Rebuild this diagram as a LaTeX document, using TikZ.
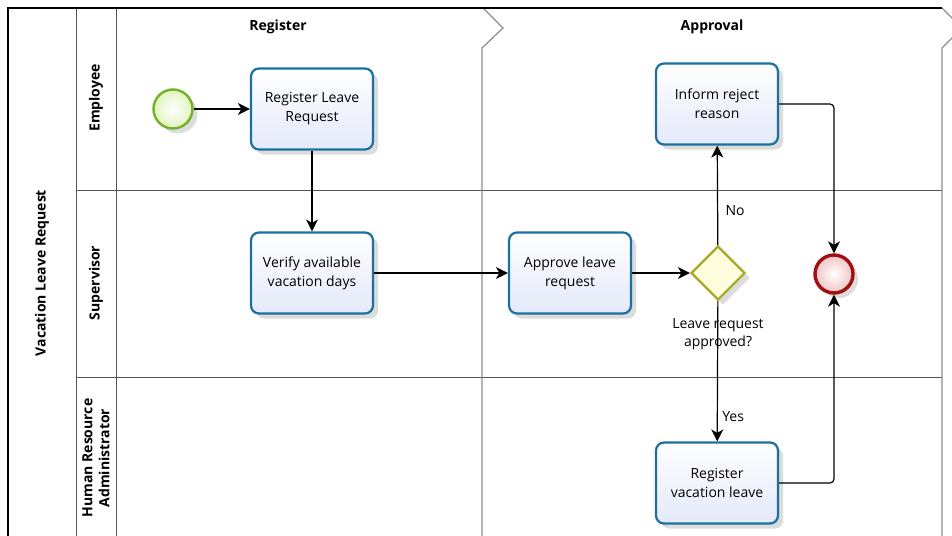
\documentclass[tikz,border=0pt]{standalone}
\usepackage{fontspec}
\setmainfont{Open Sans}
\usetikzlibrary{arrows.meta, shapes.geometric, shadows, positioning}

\definecolor{taskline}{RGB}{28,112,158}
\definecolor{taskfill}{RGB}{228,233,250}
\definecolor{startline}{RGB}{112,178,40}
\definecolor{startfill}{RGB}{226,244,190}
\definecolor{gateline}{RGB}{168,168,40}
\definecolor{gatefill}{RGB}{253,253,222}
\definecolor{endline}{RGB}{160,16,16}
\definecolor{endfill}{RGB}{240,196,196}
\definecolor{laneline}{RGB}{85,85,85}
\definecolor{phaseline}{RGB}{140,140,140}

\tikzset{
  softshadow/.style = {drop shadow = {opacity = 0.28, shadow xshift = 5pt, shadow yshift = -5pt}},
  task/.style = {draw = taskline, line width = 2.2pt, top color = white, bottom color = taskfill,
    rounded corners = 8pt, minimum width = 122pt, minimum height = 81pt, align = center,
    font = \fontsize{14}{19}\selectfont, softshadow},
  startev/.style = {circle, draw = startline, line width = 2.4pt, inner color = white,
    outer color = startfill, minimum size = 39pt, inner sep = 0pt, softshadow},
  endev/.style = {circle, draw = endline, line width = 3.4pt, inner color = white,
    outer color = endfill, minimum size = 38pt, inner sep = 0pt, softshadow},
  gateway/.style = {diamond, draw = gateline, line width = 2.2pt, fill = gatefill,
    minimum width = 54pt, minimum height = 54pt, inner sep = 0pt, softshadow},
  flow/.style = {draw = black, line width = 1.2pt, -{Stealth[length = 12pt, width = 12pt, inset = 3.5pt]}},
  lanelabel/.style = {rotate = 90, align = center, font = \fontsize{14}{17}\selectfont\bfseries},
  phaselabel/.style = {font = \fontsize{14}{17}\selectfont\bfseries},
  flowlabel/.style = {font = \fontsize{14}{18}\selectfont, align = center}
}

\begin{document}
\begin{tikzpicture}[x = 1pt, y = -1pt]
\useasboundingbox (0, 0) rectangle (952, 535);
\clip (0, 0) rectangle (952, 535);

% pool and lanes
\draw[draw = laneline, line width = 1pt] (76, 8) -- (76, 540);
\draw[draw = laneline, line width = 1pt] (116, 8) -- (116, 540);
\draw[draw = laneline, line width = 1pt] (76, 190) -- (942, 190);
\draw[draw = laneline, line width = 1pt] (76, 377) -- (942, 377);
\draw[draw = phaseline, line width = 1.2pt] (483, 8) -- (503, 28) -- (482, 48) -- (482, 540);
\draw[draw = phaseline, line width = 1.2pt] (942, 8) -- (962, 28) -- (942, 48) -- (942, 540);
\draw[line width = 1.6pt] (8, 540) -- (8, 8) -- (942, 8);

\node[lanelabel] (pool) at (42, 273) {Vacation Leave Request};
\node[lanelabel] (emp) at (96, 98) {Employee};
\node[lanelabel] (sup) at (96, 283) {Supervisor};
\node[lanelabel] (hra) at (96, 458) {Human Resource\\Administrator};
\node[phaselabel] (ph1) at (278, 27) {Register};
\node[phaselabel] (ph2) at (712, 27) {Approval};

% activities
\node[startev] (start) at (173, 109) {};
\node[task] (regreq) at (312, 109) {Register Leave\\Request};
\node[task] (verify) at (312, 273) {Verify available\\vacation days};
\node[task] (approve) at (570, 273) {Approve leave\\request};
\node[gateway] (gate) at (718, 273) {};
\node[flowlabel, below = 14pt of gate] (gatetxt) {Leave request\\approved?};
\node[task] (inform) at (717, 104) {Inform reject\\reason};
\node[task] (regvac) at (717, 483) {Register\\vacation leave};
\node[endev] (finish) at (834, 274) {};

% flows
\draw[flow] (start) -- (regreq);
\draw[flow] (regreq) -- (verify);
\draw[flow] (verify) -- (approve);
\draw[flow] (approve) -- (gate);
\draw[flow] (gate) -- node[flowlabel, pos = 0.35, right = 4pt] {No} (inform);
\draw[flow] (gate) -- node[flowlabel, pos = 0.82, right = 1pt] {Yes} (regvac);
\draw[flow, rounded corners = 4pt] (inform.east) -| (finish);
\draw[flow, rounded corners = 4pt] (regvac.east) -| (finish);
\end{tikzpicture}
\end{document}
